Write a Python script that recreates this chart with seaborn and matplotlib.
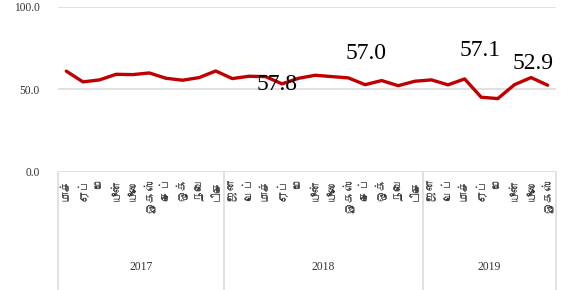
import numpy as np
import pandas as pd
import matplotlib
matplotlib.use('Agg')
import matplotlib.pyplot as plt
import seaborn as sns
from matplotlib import font_manager
from matplotlib.ft2font import FT2Font

# data
months_2017 = ['மாச்', 'ஏப்', 'மே', 'யூன்', 'யூலை', 'ஓகஸ்', 'செப்', 'ஒக்', 'நவெ', 'டிசெ']
months_2018 = ['ஜன', 'பெப்', 'மாச்', 'ஏப்', 'மே', 'யூன்', 'யூலை', 'ஓகஸ்', 'செப்', 'ஒக்', 'நவெ', 'டிசெ']
months_2019 = ['ஜன', 'பெப்', 'மாச்', 'ஏப்', 'மே', 'யூன்', 'யூலை', 'ஓகஸ்']
years = ['2017', '2018', '2019']

vals_2017 = [61.0, 54.5, 55.7, 59.1, 58.9, 59.9, 56.7, 55.5, 57.1, 61.1]
vals_2018 = [56.5, 57.9, 57.7, 53.3, 56.7, 58.5, 57.7, 56.9, 52.8, 55.3, 52.2, 54.9]
vals_2019 = [55.7, 52.7, 56.3, 45.2, 44.4, 52.8, 57.1, 52.5]

label_texts = ['57.8', '57.0', '57.1', '52.9']
label_x = [12.7, 18.05, 24.95, 28.1]
label_y = [49.6, 68.4, 70.2, 62.2]

y_ticks = [0, 50, 100]


def tamil_font():
    # pick any installed font that has Tamil glyphs
    for f in font_manager.fontManager.ttflist:
        try:
            if 0x0BAE in FT2Font(f.fname).get_charmap():
                return f.name
        except Exception:
            pass
    return 'DejaVu Sans'


months = months_2017 + months_2018 + months_2019
values = vals_2017 + vals_2018 + vals_2019
df = pd.DataFrame({'idx': np.arange(len(values)), 'value': values})
group_sizes = [len(months_2017), len(months_2018), len(months_2019)]

sns.set_style('white')
serif = ['Liberation Serif', 'DejaVu Serif']
tfont = [tamil_font(), 'DejaVu Sans']

fig = plt.figure(figsize=(5.71, 2.9), dpi=100)
ax = fig.add_axes([0.1016, 0.407, 0.872, 0.570])

sns.lineplot(data=df, x='idx', y='value', color='#C00000', linewidth=2.4, ax=ax)

ax.set_xlim(-0.5, len(values) - 0.5)
ax.set_ylim(0, 100)
for s in ax.spines.values():
    s.set_visible(False)

ax.set_yticks(y_ticks)
ax.set_yticklabels([f'{v:.1f}' for v in y_ticks], family=serif, fontsize=8.3, color='#333333')
ax.yaxis.grid(True, color='#D9D9D9', linewidth=1.1)
ax.set_axisbelow(True)
ax.tick_params(axis='y', length=0, pad=13)

ax.set_xticks(range(len(months)))
ax.set_xticklabels(months, rotation=90, fontsize=8.5, family=tfont, color='#333333', va='top')
ax.tick_params(axis='x', length=0, pad=4)
ax.set_xlabel('')
ax.set_ylabel('')

# year groups: separators and labels under the month labels
trans = ax.get_xaxis_transform()
edges = np.concatenate([[0], np.cumsum(group_sizes)]) - 0.5
for e in edges:
    ax.plot([e, e], [0, -0.75], transform=trans, color='#D9D9D9', linewidth=1.1, clip_on=False)
for yr, a, b in zip(years, edges[:-1], edges[1:]):
    ax.text((a + b) / 2, -0.575, yr, transform=trans, ha='center', va='center',
            family=serif, fontsize=8.4, color='#333333')

for t, x, y in zip(label_texts, label_x, label_y):
    ax.text(x, y, t, ha='center', va='baseline', family=serif, fontsize=17, color='black')

fig.savefig('out.png', dpi=100)
